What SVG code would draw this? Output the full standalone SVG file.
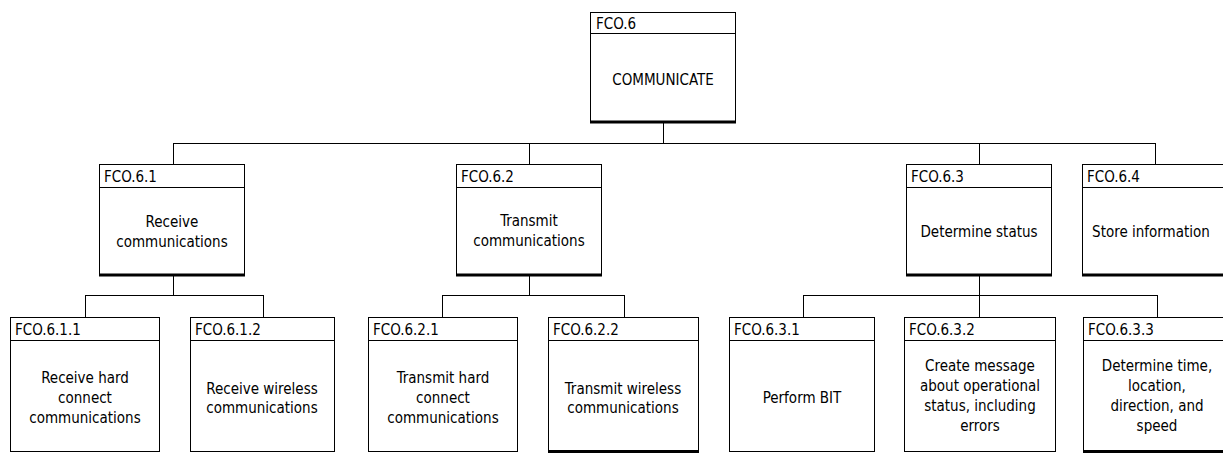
<svg xmlns="http://www.w3.org/2000/svg" width="1223" height="453" viewBox="0 0 1223 453">
<style>
.bx{fill:#fff;stroke:#000;stroke-width:1}
.hd{stroke:#000;stroke-width:1}
.sh{stroke:#000;stroke-width:3}
.cn{fill:none;stroke:#000;stroke-width:1}
text{font-family:"DejaVu Sans Condensed","DejaVu Sans",sans-serif;font-stretch:condensed;font-size:15px;fill:#000}
.c{text-anchor:middle}
</style>
<rect width="1223" height="453" fill="#fff"/>
<g id="connectors">
<path class="cn" d="M663.5 122V143.5M173.5 143.5H1155.5M173.5 143V164M529.5 143V164M979.5 143V164M1155.5 143V164"/>
<path class="cn" d="M173.5 275V295.5M85.5 295.5H263.5M85.5 295V317M263.5 295V317"/>
<path class="cn" d="M529.5 275V295.5M442.5 295.5H624.5M442.5 295V317M624.5 295V317"/>
<path class="cn" d="M979.5 275V295.5M803.5 295.5H1157.5M803.5 295V317M979.5 295V317M1157.5 295V317"/>
</g>
<g id="n6">
<rect class="bx" x="590.5" y="12.5" width="145" height="109"/>
<line class="hd" x1="590.5" y1="33.5" x2="735.5" y2="33.5"/>
<line class="sh" x1="590" y1="122" x2="736" y2="122"/>
<text x="596" y="29">FCO.6</text>
<text class="c" x="663" y="85">COMMUNICATE</text>
</g>
<g id="n61">
<rect class="bx" x="99.5" y="164.5" width="145" height="110"/>
<line class="hd" x1="99.5" y1="187.5" x2="244.5" y2="187.5"/>
<line class="sh" x1="99" y1="275" x2="245" y2="275"/>
<text x="104" y="182">FCO.6.1</text>
<text class="c" x="172" y="227">Receive</text>
<text class="c" x="172" y="247">communications</text>
</g>
<g id="n62">
<rect class="bx" x="456.5" y="164.5" width="145" height="110"/>
<line class="hd" x1="456.5" y1="187.5" x2="601.5" y2="187.5"/>
<line class="sh" x1="456" y1="275" x2="602" y2="275"/>
<text x="461" y="182">FCO.6.2</text>
<text class="c" x="529" y="226">Transmit</text>
<text class="c" x="529" y="246">communications</text>
</g>
<g id="n63">
<rect class="bx" x="906.5" y="164.5" width="145" height="110"/>
<line class="hd" x1="906.5" y1="187.5" x2="1051.5" y2="187.5"/>
<line class="sh" x1="906" y1="275" x2="1052" y2="275"/>
<text x="911" y="182">FCO.6.3</text>
<text class="c" x="979" y="237">Determine status</text>
</g>
<g id="n64">
<rect class="bx" x="1082.5" y="164.5" width="146" height="110"/>
<line class="hd" x1="1082.5" y1="187.5" x2="1228.5" y2="187.5"/>
<line class="sh" x1="1082" y1="275" x2="1229" y2="275"/>
<text x="1087" y="182">FCO.6.4</text>
<text class="c" x="1151" y="237">Store information</text>
</g>
<g id="n611">
<rect class="bx" x="10.5" y="317.5" width="149" height="134"/>
<line class="hd" x1="10.5" y1="340.5" x2="159.5" y2="340.5"/>
<text x="15" y="335">FCO.6.1.1</text>
<text class="c" x="85" y="383">Receive hard</text>
<text class="c" x="85" y="403">connect</text>
<text class="c" x="85" y="423">communications</text>
</g>
<g id="n612">
<rect class="bx" x="190.5" y="317.5" width="144" height="134"/>
<line class="hd" x1="190.5" y1="340.5" x2="334.5" y2="340.5"/>
<text x="195" y="335">FCO.6.1.2</text>
<text class="c" x="262" y="394">Receive wireless</text>
<text class="c" x="262" y="413">communications</text>
</g>
<g id="n621">
<rect class="bx" x="368.5" y="317.5" width="149" height="134"/>
<line class="hd" x1="368.5" y1="340.5" x2="517.5" y2="340.5"/>
<text x="373" y="335">FCO.6.2.1</text>
<text class="c" x="443" y="383">Transmit hard</text>
<text class="c" x="443" y="403">connect</text>
<text class="c" x="443" y="423">communications</text>
</g>
<g id="n622">
<rect class="bx" x="548.5" y="317.5" width="150" height="133"/>
<line class="hd" x1="548.5" y1="340.5" x2="698.5" y2="340.5"/>
<line class="sh" x1="548" y1="451.5" x2="699" y2="451.5"/>
<text x="553" y="335">FCO.6.2.2</text>
<text class="c" x="623" y="394">Transmit wireless</text>
<text class="c" x="623" y="413">communications</text>
</g>
<g id="n631">
<rect class="bx" x="729.5" y="317.5" width="145" height="134"/>
<line class="hd" x1="729.5" y1="340.5" x2="874.5" y2="340.5"/>
<text x="734" y="335">FCO.6.3.1</text>
<text class="c" x="802" y="403">Perform BIT</text>
</g>
<g id="n632">
<rect class="bx" x="904.5" y="317.5" width="151" height="134"/>
<line class="hd" x1="904.5" y1="340.5" x2="1055.5" y2="340.5"/>
<text x="909" y="335">FCO.6.3.2</text>
<text class="c" x="980" y="371">Create message</text>
<text class="c" x="980" y="391">about operational</text>
<text class="c" x="980" y="411">status, including</text>
<text class="c" x="980" y="431">errors</text>
</g>
<g id="n633">
<rect class="bx" x="1083.5" y="317.5" width="148" height="133"/>
<line class="hd" x1="1083.5" y1="340.5" x2="1231.5" y2="340.5"/>
<line class="sh" x1="1083" y1="451.5" x2="1232" y2="451.5"/>
<text x="1088" y="335">FCO.6.3.3</text>
<text class="c" x="1157" y="371">Determine time,</text>
<text class="c" x="1157" y="391">location,</text>
<text class="c" x="1157" y="411">direction, and</text>
<text class="c" x="1157" y="431">speed</text>
</g>
</svg>
